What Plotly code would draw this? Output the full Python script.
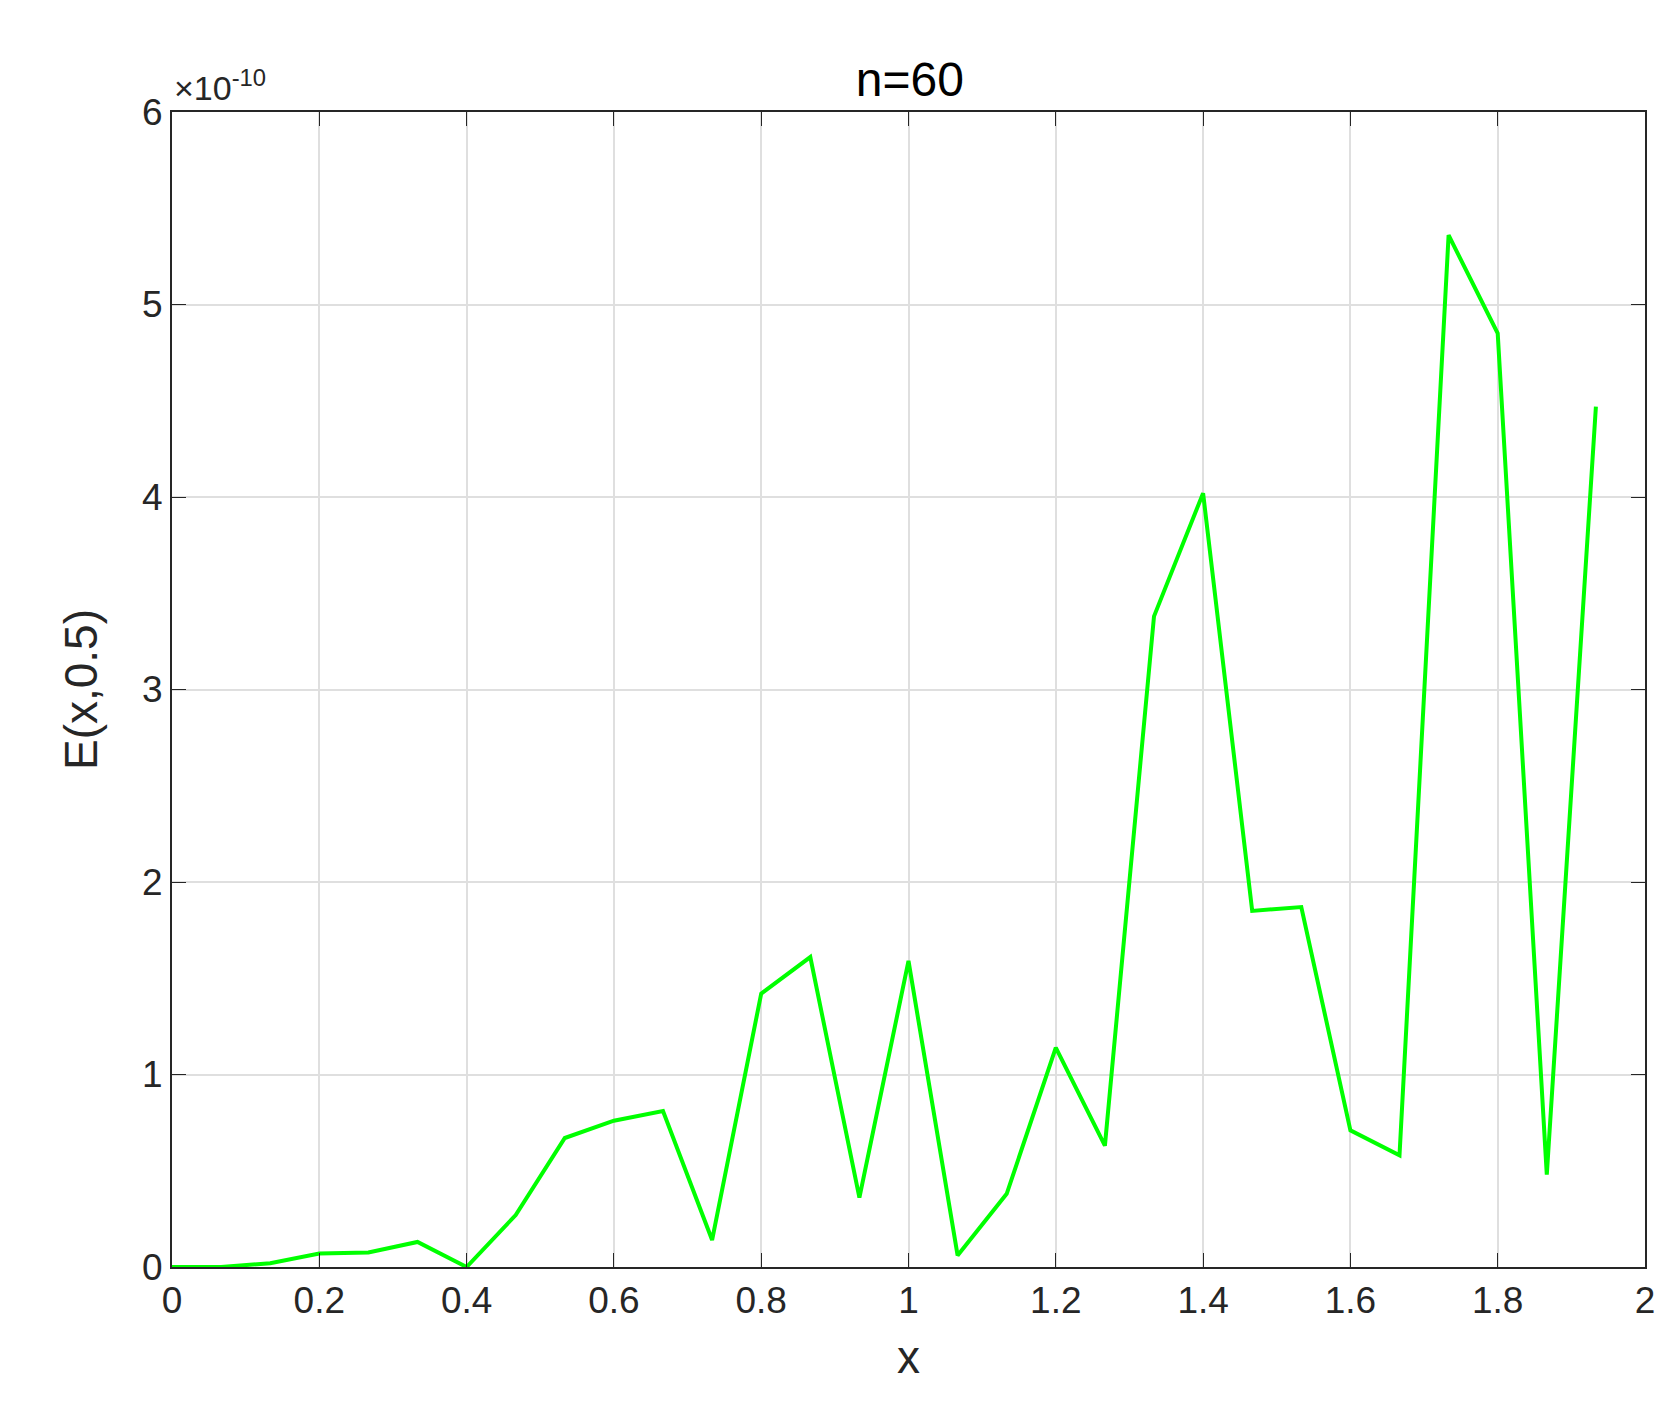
import plotly.graph_objects as go

x_vals = [i/15 for i in range(30)]
e_vals = [0, 0, 0.02, 0.07, 0.075, 0.13, 0.0, 0.27, 0.67, 0.76, 0.81, 0.14, 1.42, 1.61, 0.36,
          1.59, 0.06, 0.38, 1.14, 0.63, 3.38, 4.02, 1.85, 1.87, 0.71, 0.58, 5.36, 4.85, 0.48, 4.47]
y_scale = 1e-10
y_data = [v * y_scale for v in e_vals]

fig = go.Figure(go.Scatter(x=x_vals, y=y_data, mode="lines",
                           line=dict(color="#00ff00", width=4)))
ax = dict(showline=True, linecolor="#262626", linewidth=2, mirror="ticks", ticks="inside",
          ticklen=14, tickcolor="#262626", gridcolor="#dfdfdf", gridwidth=2, zeroline=False,
          tickfont=dict(family="Liberation Sans, Arial", size=37, color="#262626"))
fig.update_xaxes(range=[0, 2], dtick=0.2, tickformat="~g",
                 title=dict(text="x", font=dict(size=46, color="#262626"), standoff=20), **ax)
fig.update_yaxes(range=[0, 6e-10], tickvals=[k*1e-10 for k in range(7)],
                 ticktext=[str(k) for k in range(7)],
                 title=dict(text="E(x,0.5)", font=dict(size=46, color="#262626"), standoff=30), **ax)
fig.update_layout(width=1670, height=1422, plot_bgcolor="white", paper_bgcolor="white",
                  font=dict(family="Liberation Sans, Arial", color="#262626"),
                  margin=dict(l=164, r=33, t=104, b=163), showlegend=False,
                  title=dict(text="n=60", x=0.54, xanchor="center", y=0.962,
                             font=dict(size=48, color="black")),
                  annotations=[dict(text="×10<sup>-10</sup>", xref="paper", yref="paper",
                                    x=0, y=1.003, xanchor="left", yanchor="bottom", showarrow=False,
                                    font=dict(size=34, color="#262626"))])
fig.write_html("out.html")
